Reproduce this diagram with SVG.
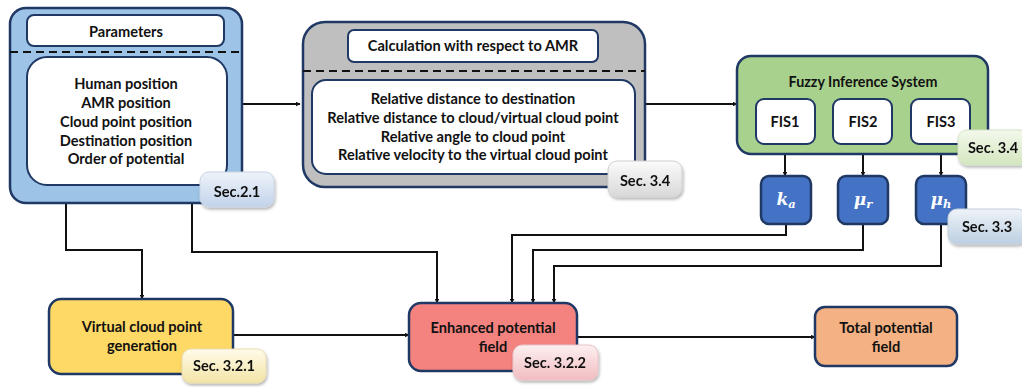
<svg xmlns="http://www.w3.org/2000/svg" width="1022" height="387" viewBox="0 0 1022 387">
<defs>
<style>
.t{font-family:Lato,"Liberation Sans",sans-serif;font-weight:bold;font-size:14.6px;fill:#111;text-anchor:middle}
.m{font-family:"DejaVu Serif","Liberation Serif",serif;font-style:italic;font-weight:bold;font-size:17px;fill:#fff;text-anchor:middle}
.ob{stroke:#1f3864;stroke-width:2.5}
.ib{fill:#fff;stroke:#1f3864;stroke-width:2}
.dash{stroke:#111;stroke-width:2.2;stroke-dasharray:8 5;fill:none}
.c{fill:none;stroke:#111;stroke-width:2}
.bd{filter:url(#sh)}
</style>
<marker id="ar" viewBox="0 0 10 10" refX="9" refY="5" markerWidth="5" markerHeight="5" orient="auto" markerUnits="userSpaceOnUse">
<path d="M0,0 L10,5 L0,10 z" fill="#111"/>
</marker>
<filter id="sh" x="-20%" y="-20%" width="150%" height="160%">
<feDropShadow dx="1" dy="2" stdDeviation="1.5" flood-color="#000" flood-opacity="0.3"/>
</filter>
<linearGradient id="gBlue" x1="0" y1="0" x2="0" y2="1"><stop offset="0" stop-color="#eef3fa"/><stop offset="1" stop-color="#c3d3ea"/></linearGradient>
<linearGradient id="gGray" x1="0" y1="0" x2="0" y2="1"><stop offset="0" stop-color="#fbfbfb"/><stop offset="1" stop-color="#d8d8d8"/></linearGradient>
<linearGradient id="gGreen" x1="0" y1="0" x2="0" y2="1"><stop offset="0" stop-color="#f3f8ec"/><stop offset="1" stop-color="#d4e7bf"/></linearGradient>
<linearGradient id="gSteel" x1="0" y1="0" x2="0" y2="1"><stop offset="0" stop-color="#eef3f8"/><stop offset="1" stop-color="#bccfe1"/></linearGradient>
<linearGradient id="gCream" x1="0" y1="0" x2="0" y2="1"><stop offset="0" stop-color="#fffbea"/><stop offset="1" stop-color="#f3e4a6"/></linearGradient>
<linearGradient id="gPink" x1="0" y1="0" x2="0" y2="1"><stop offset="0" stop-color="#fdf0f0"/><stop offset="1" stop-color="#f1bcc1"/></linearGradient>
</defs>
<rect width="1022" height="387" fill="#fff"/>

<g id="connectors">
<path class="c" d="M242,104 H300" marker-end="url(#ar)"/>
<path class="c" d="M645,104 H737" marker-end="url(#ar)"/>
<path class="c" d="M66,203 V250 H142 V299" marker-end="url(#ar)"/>
<path class="c" d="M192,203 V252 H437 V303" marker-end="url(#ar)"/>
<path class="c" d="M786,224 V235 H512 V303" marker-end="url(#ar)"/>
<path class="c" d="M863,224 V250 H533 V303" marker-end="url(#ar)"/>
<path class="c" d="M941,224 V266 H554 V303" marker-end="url(#ar)"/>
<path class="c" d="M785,144 V176" marker-end="url(#ar)"/>
<path class="c" d="M863,144 V176" marker-end="url(#ar)"/>
<path class="c" d="M941,144 V176" marker-end="url(#ar)"/>
<path class="c" d="M233,335 H409" marker-end="url(#ar)"/>
<path class="c" d="M577,337 H815" marker-end="url(#ar)"/>
</g>

<g id="parameters">
<rect class="ob" x="10" y="8" width="232" height="195" rx="16" fill="#9dc3e6"/>
<rect class="ib" x="27" y="15" width="197" height="31" rx="7"/>
<text class="t" x="126" y="37">Parameters</text>
<line class="dash" x1="10" y1="52" x2="242" y2="52"/>
<rect class="ib" x="27" y="57" width="200" height="128" rx="20"/>
<text class="t" x="126" y="89">Human position</text>
<text class="t" x="126" y="108">AMR position</text>
<text class="t" x="126" y="127">Cloud point position</text>
<text class="t" x="126" y="146">Destination position</text>
<text class="t" x="126" y="164">Order of potential</text>
</g>
<g id="badge-sec21" class="bd">
<rect x="200" y="172" width="74" height="35" rx="9" fill="url(#gBlue)" stroke="#c9d4e4" stroke-width="1"/>
<text class="t" x="237" y="197">Sec.2.1</text>
</g>

<g id="calculation">
<rect class="ob" x="303" y="22" width="342" height="165" rx="22" fill="#bfbfbf"/>
<rect class="ib" x="348" y="30" width="250" height="32" rx="6"/>
<text class="t" x="473" y="51">Calculation with respect to AMR</text>
<line class="dash" x1="303" y1="71" x2="645" y2="71"/>
<rect class="ib" x="312" y="80" width="323" height="94" rx="14"/>
<text class="t" x="473" y="104">Relative distance to destination</text>
<text class="t" x="473" y="123">Relative distance to cloud/virtual cloud point</text>
<text class="t" x="473" y="142">Relative angle to cloud point</text>
<text class="t" x="473" y="160">Relative velocity to the virtual cloud point</text>
</g>
<g id="badge-sec34a" class="bd">
<rect x="608" y="161" width="74" height="36" rx="9" fill="url(#gGray)" stroke="#d0d0d0" stroke-width="1"/>
<text class="t" x="645" y="186">Sec. 3.4</text>
</g>

<g id="fis">
<rect class="ob" x="737" y="56" width="251" height="98" rx="14" fill="#a9d18e"/>
<text class="t" x="863" y="87" style="font-size:14.3px">Fuzzy Inference System</text>
</g>
<g id="fis1">
<rect class="ib" x="756" y="99" width="59" height="45" rx="8"/>
<text class="t" x="785" y="127">FIS1</text>
</g>
<g id="fis2">
<rect class="ib" x="833" y="99" width="59" height="45" rx="8"/>
<text class="t" x="863" y="127">FIS2</text>
</g>
<g id="fis3">
<rect class="ib" x="911" y="99" width="59" height="45" rx="8"/>
<text class="t" x="941" y="127">FIS3</text>
</g>
<g id="badge-sec34b" class="bd">
<rect x="958" y="130" width="70" height="35" rx="9" fill="url(#gGreen)" stroke="#d5e3c6" stroke-width="1"/>
<text class="t" x="993" y="153">Sec. 3.4</text>
</g>

<g id="ka">
<rect class="ob" x="761" y="176" width="50" height="48" rx="8" fill="#4472c4" stroke-width="2"/>
<text class="m" x="786" y="205">k<tspan font-size="11.5" dy="3">a</tspan></text>
</g>
<g id="mur">
<rect class="ob" x="838" y="176" width="50" height="48" rx="8" fill="#4472c4" stroke-width="2"/>
<text class="m" x="863" y="205">μ<tspan font-size="11.5" dy="3">r</tspan></text>
</g>
<g id="muh">
<rect class="ob" x="916" y="176" width="50" height="48" rx="8" fill="#4472c4" stroke-width="2"/>
<text class="m" x="941" y="205">μ<tspan font-size="11.5" dy="3">h</tspan></text>
</g>
<g id="badge-sec33" class="bd">
<rect x="948" y="209" width="78" height="35" rx="9" fill="url(#gSteel)" stroke="#c3d0dc" stroke-width="1"/>
<text class="t" x="987" y="232">Sec. 3.3</text>
</g>

<g id="virtual">
<rect class="ob" x="49" y="299" width="184" height="75" rx="12" fill="#ffd966" stroke-width="1.5"/>
<text class="t" x="142" y="332">Virtual cloud point</text>
<text class="t" x="142" y="351">generation</text>
</g>
<g id="badge-sec321" class="bd">
<rect x="182" y="349" width="84" height="34" rx="9" fill="url(#gCream)" stroke="#e8dcae" stroke-width="1"/>
<text class="t" x="224" y="371">Sec. 3.2.1</text>
</g>

<g id="enhanced">
<rect class="ob" x="409" y="303" width="168" height="68" rx="12" fill="#f4827f" stroke-width="1.5"/>
<text class="t" x="493" y="333">Enhanced potential</text>
<text class="t" x="493" y="352">field</text>
</g>
<g id="badge-sec322" class="bd">
<rect x="513" y="345" width="85" height="35" rx="9" fill="url(#gPink)" stroke="#e8c4c8" stroke-width="1"/>
<text class="t" x="555" y="368">Sec. 3.2.2</text>
</g>

<g id="total">
<rect class="ob" x="815" y="307" width="142" height="59" rx="10" fill="#f4b183" stroke-width="2"/>
<text class="t" x="886" y="333">Total potential</text>
<text class="t" x="886" y="352">field</text>
</g>
</svg>
